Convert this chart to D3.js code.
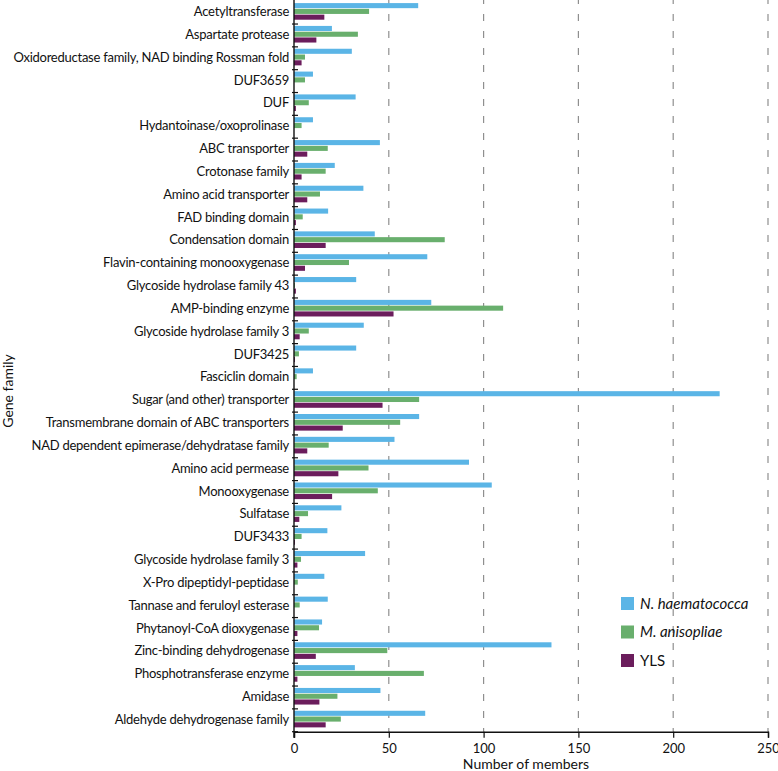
<!DOCTYPE html>
<html>
<head>
<meta charset="utf-8">
<script src="https://cdn.jsdelivr.net/npm/d3@7"></script>
<style>
  body { margin: 0; background: #fff; }
  svg { font-family: Lato, "Open Sans", sans-serif; }
</style>
</head>
<body>
<div id="chart"></div>
<script>
// gene families, top to bottom
const families = [
  "Acetyltransferase", "Aspartate protease", "Oxidoreductase family, NAD binding Rossman fold",
  "DUF3659", "DUF", "Hydantoinase/oxoprolinase", "ABC transporter", "Crotonase family",
  "Amino acid transporter", "FAD binding domain", "Condensation domain",
  "Flavin-containing monooxygenase", "Glycoside hydrolase family 43", "AMP-binding enzyme",
  "Glycoside hydrolase family 3", "DUF3425", "Fasciclin domain", "Sugar (and other) transporter",
  "Transmembrane domain of ABC transporters", "NAD dependent epimerase/dehydratase family",
  "Amino acid permease", "Monooxygenase", "Sulfatase", "DUF3433", "Glycoside hydrolase family 3",
  "X-Pro dipeptidyl-peptidase", "Tannase and feruloyl esterase", "Phytanoyl-CoA dioxygenase",
  "Zinc-binding dehydrogenase", "Phosphotransferase enzyme", "Amidase", "Aldehyde dehydrogenase family"
];

const seriesNames = ["N. haematococca", "M. anisopliae", "YLS"];

const nhaem = [65.5, 20, 30.5, 10, 32.5, 10, 45.3, 21.5, 36.6, 18, 42.6, 70.3, 32.8, 72.4, 36.8, 32.8,
  10, 224.5, 66, 53, 92.3, 104.3, 25, 17.6, 37.5, 16, 17.8, 14.8, 135.8, 32.1, 45.6, 69.2];
const manis = [39.6, 33.7, 5.8, 5.8, 7.8, 4, 17.8, 16.7, 13.7, 4.6, 79.5, 29, 0.5, 110.3, 7.8, 2.6,
  1.4, 66, 56, 18.3, 39.3, 44.2, 7.4, 4, 3.7, 2, 3, 13.2, 49.2, 68.5, 22.9, 24.7];
const yls = [16, 11.8, 4, 0, 1, 0, 7, 4, 7, 1, 16.7, 5.8, 1, 52.5, 3, 0.5,
  0, 46.7, 25.7, 7, 23.4, 20.1, 2.8, 0.5, 1.8, 0, 0, 1.8, 11.5, 1.8, 13.4, 16.7];

const xTicks = [0, 50, 100, 150, 200, 250];
const colors = ["#5bb5e6", "#69af6d", "#6b1d5c"];

const width = 778, height = 771;
const svg = d3.select("#chart").append("svg")
  .attr("width", width).attr("height", height);

const x = d3.scaleLinear().domain([0, 250]).range([294, 768]);
const idx = d3.range(families.length);
const y = d3.scaleBand().domain(idx).range([1.2, 731.7]);
const yInner = d3.scaleBand().domain(d3.range(3)).range([1.2, 19.2]).padding(0.12);

const allSeries = [nhaem, manis, yls];

// dashed grid
svg.append("g")
  .selectAll("line")
  .data(xTicks.slice(1))
  .enter().append("line")
  .attr("x1", d => x(d)).attr("x2", d => x(d))
  .attr("y1", 0).attr("y2", y.range()[1])
  .attr("stroke", "#8f8f8f")
  .attr("stroke-width", 1.2)
  .attr("stroke-dasharray", "7,10")
  .attr("stroke-dashoffset", 3);

// bars
const groups = svg.append("g")
  .selectAll("g")
  .data(idx)
  .enter().append("g")
  .attr("transform", i => `translate(0,${y(i)})`);

groups.selectAll("rect")
  .data(i => allSeries.map((s, k) => ({k: k, v: s[i]})).filter(d => d.v > 0))
  .enter().append("rect")
  .attr("x", x(0))
  .attr("y", d => yInner(d.k))
  .attr("width", d => x(d.v) - x(0))
  .attr("height", yInner.bandwidth())
  .attr("fill", d => colors[d.k]);

// y axis
const yAxis = svg.append("g");
yAxis.append("line")
  .attr("x1", x(0)).attr("x2", x(0))
  .attr("y1", 0).attr("y2", y.range()[1] + 6)
  .attr("stroke", "#111").attr("stroke-width", 1.4);
yAxis.selectAll(".ytick")
  .data(d3.range(families.length))
  .enter().append("line")
  .attr("class", "ytick")
  .attr("x1", x(0) - 2).attr("x2", x(0) + 4)
  .attr("y1", i => y(i) + y.bandwidth()).attr("y2", i => y(i) + y.bandwidth())
  .attr("stroke", "#111").attr("stroke-width", 1.2);
yAxis.selectAll(".ylabel")
  .data(idx)
  .enter().append("text")
  .attr("class", "ylabel")
  .attr("x", 289)
  .attr("y", i => y(i) + y.bandwidth() / 2 - 1)
  .attr("dy", "0.35em")
  .attr("text-anchor", "end")
  .style("font-size", "13px")
  .style("letter-spacing", "-0.25px")
  .attr("fill", "#111")
  .text(i => families[i]);

// x axis
const xAxis = svg.append("g")
  .attr("transform", `translate(0,${y.range()[1]})`)
  .call(d3.axisBottom(x).tickValues(xTicks).tickSize(6).tickPadding(6));
xAxis.select(".domain").attr("stroke", "#111").attr("stroke-width", 1.4);
xAxis.selectAll(".tick line").attr("stroke", "#111").attr("stroke-width", 1.2);
xAxis.selectAll(".tick text")
  .style("font-size", "13px").style("font-family", "Lato, sans-serif").attr("fill", "#111");

svg.append("text")
  .attr("x", 526).attr("y", 769)
  .attr("text-anchor", "middle")
  .style("font-size", "14px")
  .attr("fill", "#111")
  .text("Number of members");

svg.append("text")
  .attr("transform", "translate(13,391) rotate(-90)")
  .attr("text-anchor", "middle")
  .style("font-size", "14px")
  .attr("fill", "#111")
  .text("Gene family");

// legend
const legend = svg.append("g").attr("transform", "translate(621,597)");
const items = legend.selectAll("g")
  .data(seriesNames)
  .enter().append("g")
  .attr("transform", (d, k) => `translate(0,${k * 28.5})`);
items.append("rect")
  .attr("width", 13).attr("height", 13)
  .attr("fill", (d, k) => colors[k]);
items.append("text")
  .attr("x", 19).attr("y", 11.5)
  .style("font-size", "15px")
  .style("font-style", (d, k) => k < 2 ? "italic" : "normal")
  .attr("fill", "#111")
  .text(d => d);
</script>
</body>
</html>
